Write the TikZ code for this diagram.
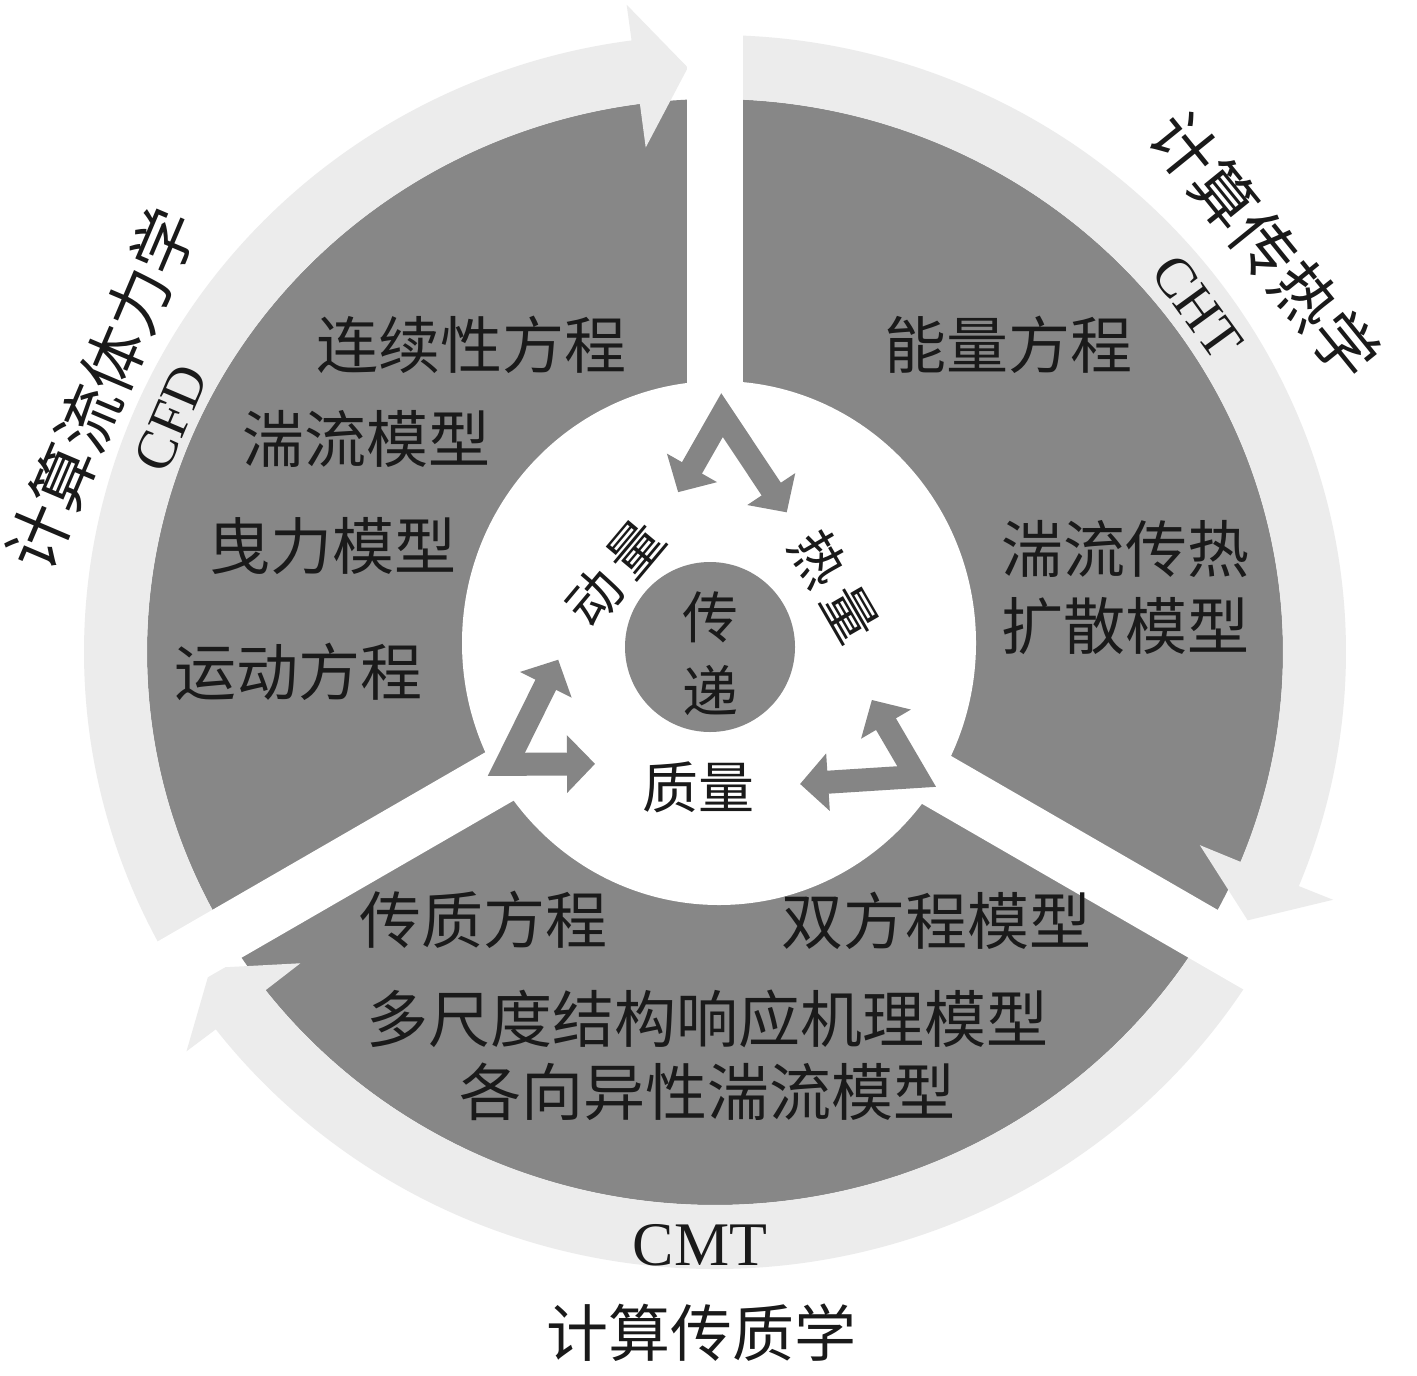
\documentclass[tikz,border=0pt]{standalone}
\usepackage{fontspec}
\setmainfont{Liberation Serif}
\newfontfamily\cjk{Noto Sans CJK SC}
\usetikzlibrary{arrows.meta}
\definecolor{sectorgray}{HTML}{878787}
\definecolor{bandgray}{HTML}{ECECEC}
\definecolor{chevgray}{HTML}{858585}
\definecolor{ink}{HTML}{1A1A1A}
\newcommand{\bandarrow}[3]{%
  \fill[bandgray] (#1:631 and 617)
    arc[start angle=#1, end angle=#2, x radius=631, y radius=617]
    -- (#2:668 and 653) -- (#3:599.5 and 585) -- (#2:524 and 509)
    -- (#2:568 and 553)
    arc[start angle=#2, end angle=#1, x radius=568, y radius=553] -- cycle;}
\tikzset{
  lbl/.style={text=ink, inner sep=0pt, font=\cjk\fontsize{31}{37}\selectfont},
  ringtitle/.style={text=ink, inner sep=0pt, font=\cjk\fontsize{32}{38}\selectfont},
  latinlbl/.style={text=ink, inner sep=0pt, font=\fontsize{28}{32}\selectfont},
  corelbl/.style={text=ink, inner sep=0pt, font=\cjk\fontsize{28}{33}\selectfont},
  innerlbl/.style={text=ink, inner sep=0pt, font=\cjk\fontsize{27}{32}\selectfont},
  chev/.style={draw=chevgray, line width=11.5pt, line join=miter,
    arrows={Triangle[length=14pt,width=28pt]-Triangle[length=14pt,width=28pt]}},
  gapstrip/.style={draw=white, line width=28pt}
}
\begin{document}
\begin{tikzpicture}[x=0.5pt,y=0.5pt]
\useasboundingbox (0,-1375) rectangle (1417,0);
\fill[white] (0,-1375) rectangle (1417,0);
\coordinate (C) at (715,-652);
\coordinate (Ci) at (719,-643);
% gray ring
\fill[sectorgray] (C) ellipse [x radius=568, y radius=553];
\fill[white] (Ci) ellipse [x radius=257, y radius=262];
% outer arrow bands (clockwise)
\begin{scope}[shift={(C)}]
  \bandarrow{210}{97.6}{92.6}
  \bandarrow{90}{-22.3}{-27.3}
  \bandarrow{-30}{-142.3}{-147.3}
\end{scope}
% gaps between sectors
\foreach \a in {90,210,330} \draw[gapstrip] (C) -- ++(\a:720);
% chevron double arrows
\foreach \r in {0,-120,120} {
  \begin{scope}[shift={(C)}, rotate=\r]
    \draw[chev] (103:164) -- (88.3:237) -- (62.8:157);
  \end{scope}
}
% center disk
\node[circle, fill=sectorgray, minimum size=85pt, inner sep=0pt] (core) at (710,-647) {};
\node[corelbl] (chuan) at (710,-617) {传};
\node[corelbl] (di) at (710,-690) {递};
\node[corelbl] (zhiliang) at (698,-787) {质量};
\node[innerlbl, rotate=50] (dongliang) at (615,-573) {动\hspace{5pt}量};
\node[innerlbl, rotate=-60] (reliang) at (835,-586) {热\hspace{5pt}量};
% sector texts
\node[lbl] (t1) at (471,-345) {连续性方程};
\node[lbl] (t2) at (366,-439) {湍流模型};
\node[lbl] (t3) at (332,-546) {曳力模型};
\node[lbl] (t4) at (298,-672) {运动方程};
\node[lbl] (t5) at (1008,-345) {能量方程};
\node[lbl] (t6) at (1125,-549) {湍流传热};
\node[lbl] (t7) at (1125,-626) {扩散模型};
\node[lbl] (t8) at (483,-920) {传质方程};
\node[lbl] (t9) at (936,-921) {双方程模型};
\node[lbl] (t10) at (707,-1019) {多尺度结构响应机理模型};
\node[lbl] (t11) at (707,-1092) {各向异性湍流模型};
% ring titles
\node[ringtitle, rotate=67] (cfdcn) at (101,-389) {计算流体力学};
\node[latinlbl, rotate=67] (cfd) at (171,-418) {CFD};
\node[ringtitle, rotate=-51] (chtcn) at (1265,-245) {计算传热学};
\node[latinlbl, rotate=-54] (cht) at (1197,-307) {CHT};
\node[latinlbl, font=\fontsize{31}{36}\selectfont] (cmt) at (700,-1245) {CMT};
\node[lbl] (cmtcn) at (701,-1333) {计算传质学};
\end{tikzpicture}
\end{document}
